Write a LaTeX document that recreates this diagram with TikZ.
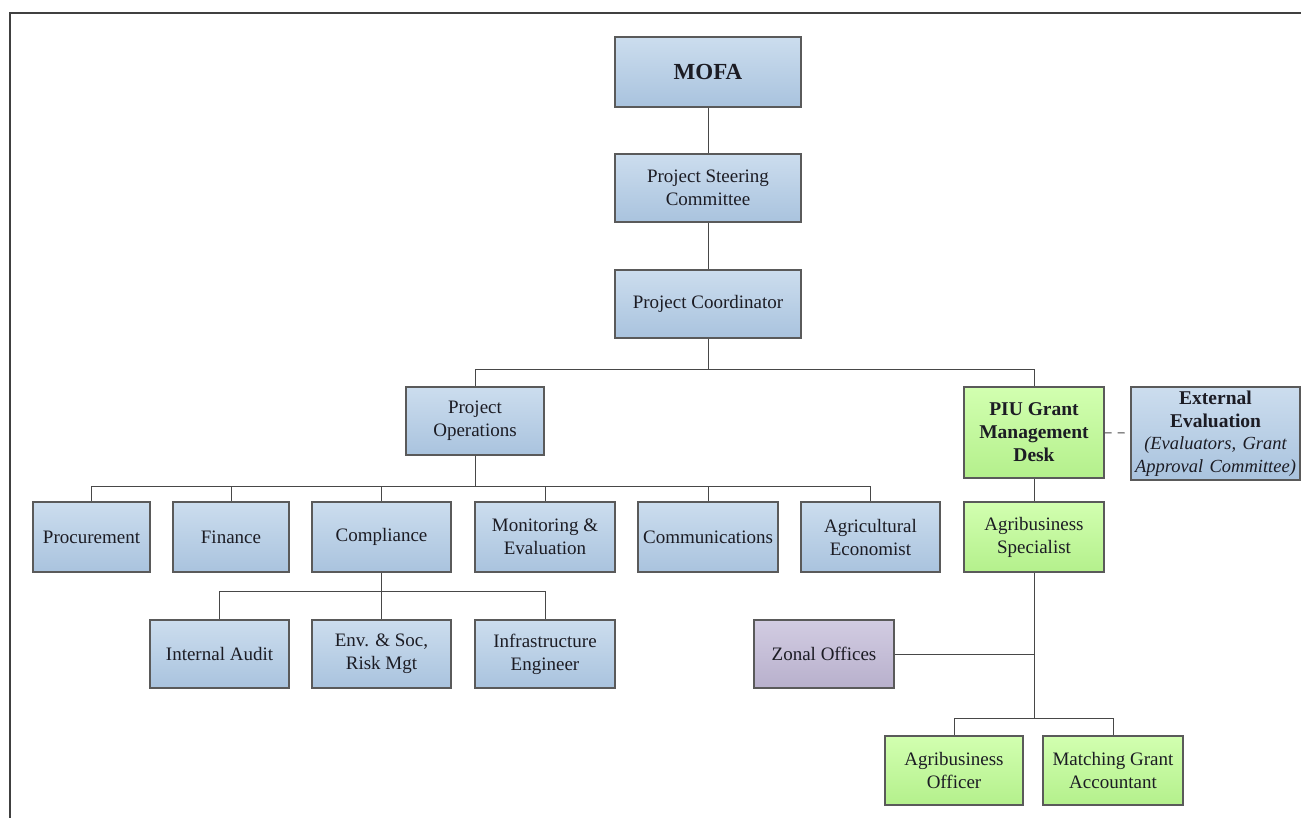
\documentclass[tikz,border=0pt]{standalone}
\usepackage{fontspec}
\setmainfont{Liberation Serif}
\definecolor{txt}{HTML}{1C1C24}
\definecolor{edge}{HTML}{5A5A5A}
\definecolor{bluetop}{HTML}{CCDDEE}
\definecolor{bluebot}{HTML}{A9C3DE}
\definecolor{greentop}{HTML}{D2FFB0}
\definecolor{greenbot}{HTML}{B4F08C}
\definecolor{purptop}{HTML}{D2CCE2}
\definecolor{purpbot}{HTML}{B8B0CC}
\tikzset{
  orgbox/.style={draw=edge, line width=1.2pt, align=center, inner sep=2pt, text=txt,
    font=\fontsize{19}{23}\selectfont},
  bluebox/.style={orgbox, top color=bluetop, bottom color=bluebot},
  greenbox/.style={orgbox, top color=greentop, bottom color=greenbot},
  purpbox/.style={orgbox, top color=purptop, bottom color=purpbot},
  link/.style={draw=edge!80!black, line width=1pt},
}
\newcommand{\extbf}{\fontsize{19.5}{23}\selectfont\bfseries\upshape}
\newcommand{\extit}{\fontsize{18.5}{22.5}\selectfont\mdseries\itshape}
\begin{document}
\begin{tikzpicture}[x=1pt,y=-1pt]
\useasboundingbox (0,0) rectangle (1301,818);
\fill[white] (0,0) rectangle (1301,818);
% frame
\draw[line width=1.2pt, black!75] (10,818) -- (10,13) -- (1301,13);

\node[bluebox, minimum width=186pt, minimum height=70pt, font=\fontsize{23}{27}\selectfont\bfseries] (mofa) at (708,72) {MOFA};
\node[bluebox, minimum width=186pt, minimum height=68pt] (psc) at (708,188) {Project Steering\\Committee};
\node[bluebox, minimum width=186pt, minimum height=68pt] (pc) at (708,304) {Project Coordinator};
\node[bluebox, minimum width=138pt, minimum height=68pt] (po) at (475,421) {Project\\Operations};
\node[greenbox, minimum width=140pt, minimum height=91pt, font=\fontsize{19.5}{23}\selectfont\bfseries] (piu) at (1034,432.5) {PIU Grant\\Management\\Desk};
\node[bluebox, minimum width=169pt, minimum height=93pt, inner sep=0pt, text width=167pt] (ext) at (1215.5,433.5)
  {\extbf External\\\extbf Evaluation\\\extit (Evaluators, Grant\\\extit Approval Committee)};

\node[bluebox, minimum width=117pt, minimum height=70pt] (proc) at (91.5,537) {Procurement};
\node[bluebox, minimum width=116pt, minimum height=70pt] (fin) at (231,537) {Finance};
\node[bluebox, minimum width=139pt, minimum height=70pt] (comp) at (381.5,537) {Compliance};
\node[bluebox, minimum width=140pt, minimum height=70pt] (me) at (545,537) {Monitoring \&\\Evaluation};
\node[bluebox, minimum width=140pt, minimum height=70pt] (comm) at (708,537) {Communications};
\node[bluebox, minimum width=139pt, minimum height=70pt] (agec) at (870.5,537) {Agricultural\\Economist};
\node[greenbox, minimum width=140pt, minimum height=70pt] (ags) at (1034,537) {Agribusiness\\Specialist};

\node[bluebox, minimum width=139pt, minimum height=68pt] (ia) at (219.5,654) {Internal Audit};
\node[bluebox, minimum width=139pt, minimum height=68pt] (env) at (381.5,654) {Env. \& Soc,\\Risk Mgt};
\node[bluebox, minimum width=140pt, minimum height=68pt] (inf) at (545,654) {Infrastructure\\Engineer};
\node[purpbox, minimum width=140pt, minimum height=68pt] (zo) at (824,654) {Zonal Offices};

\node[greenbox, minimum width=138pt, minimum height=69pt] (abo) at (954,770.5) {Agribusiness\\Officer};
\node[greenbox, minimum width=140pt, minimum height=69pt] (mga) at (1113,770.5) {Matching Grant\\Accountant};

% connectors
\draw[link] (mofa) -- (psc);
\draw[link] (psc) -- (pc);
\draw[link] (pc.south) -- ++(0,31) -| (po.north);
\draw[link] (pc.south) -- ++(0,31) -| (piu.north);
\draw[link, dash pattern=on 7pt off 6pt] (piu) -- (ext);
\foreach \c in {proc,fin,comp,me,comm,agec}
  \draw[link] (po.south) -- ++(0,31) -| (\c.north);
\draw[link] (piu) -- (ags);
\foreach \c in {ia,env,inf}
  \draw[link] (comp.south) -- ++(0,19) -| (\c.north);
\draw[link] (zo.east) -- (zo.east -| ags.south);
\draw[link] (ags.south) -- ++(0,146) -| (abo.north);
\draw[link] (ags.south) -- ++(0,146) -| (mga.north);
\end{tikzpicture}
\end{document}
